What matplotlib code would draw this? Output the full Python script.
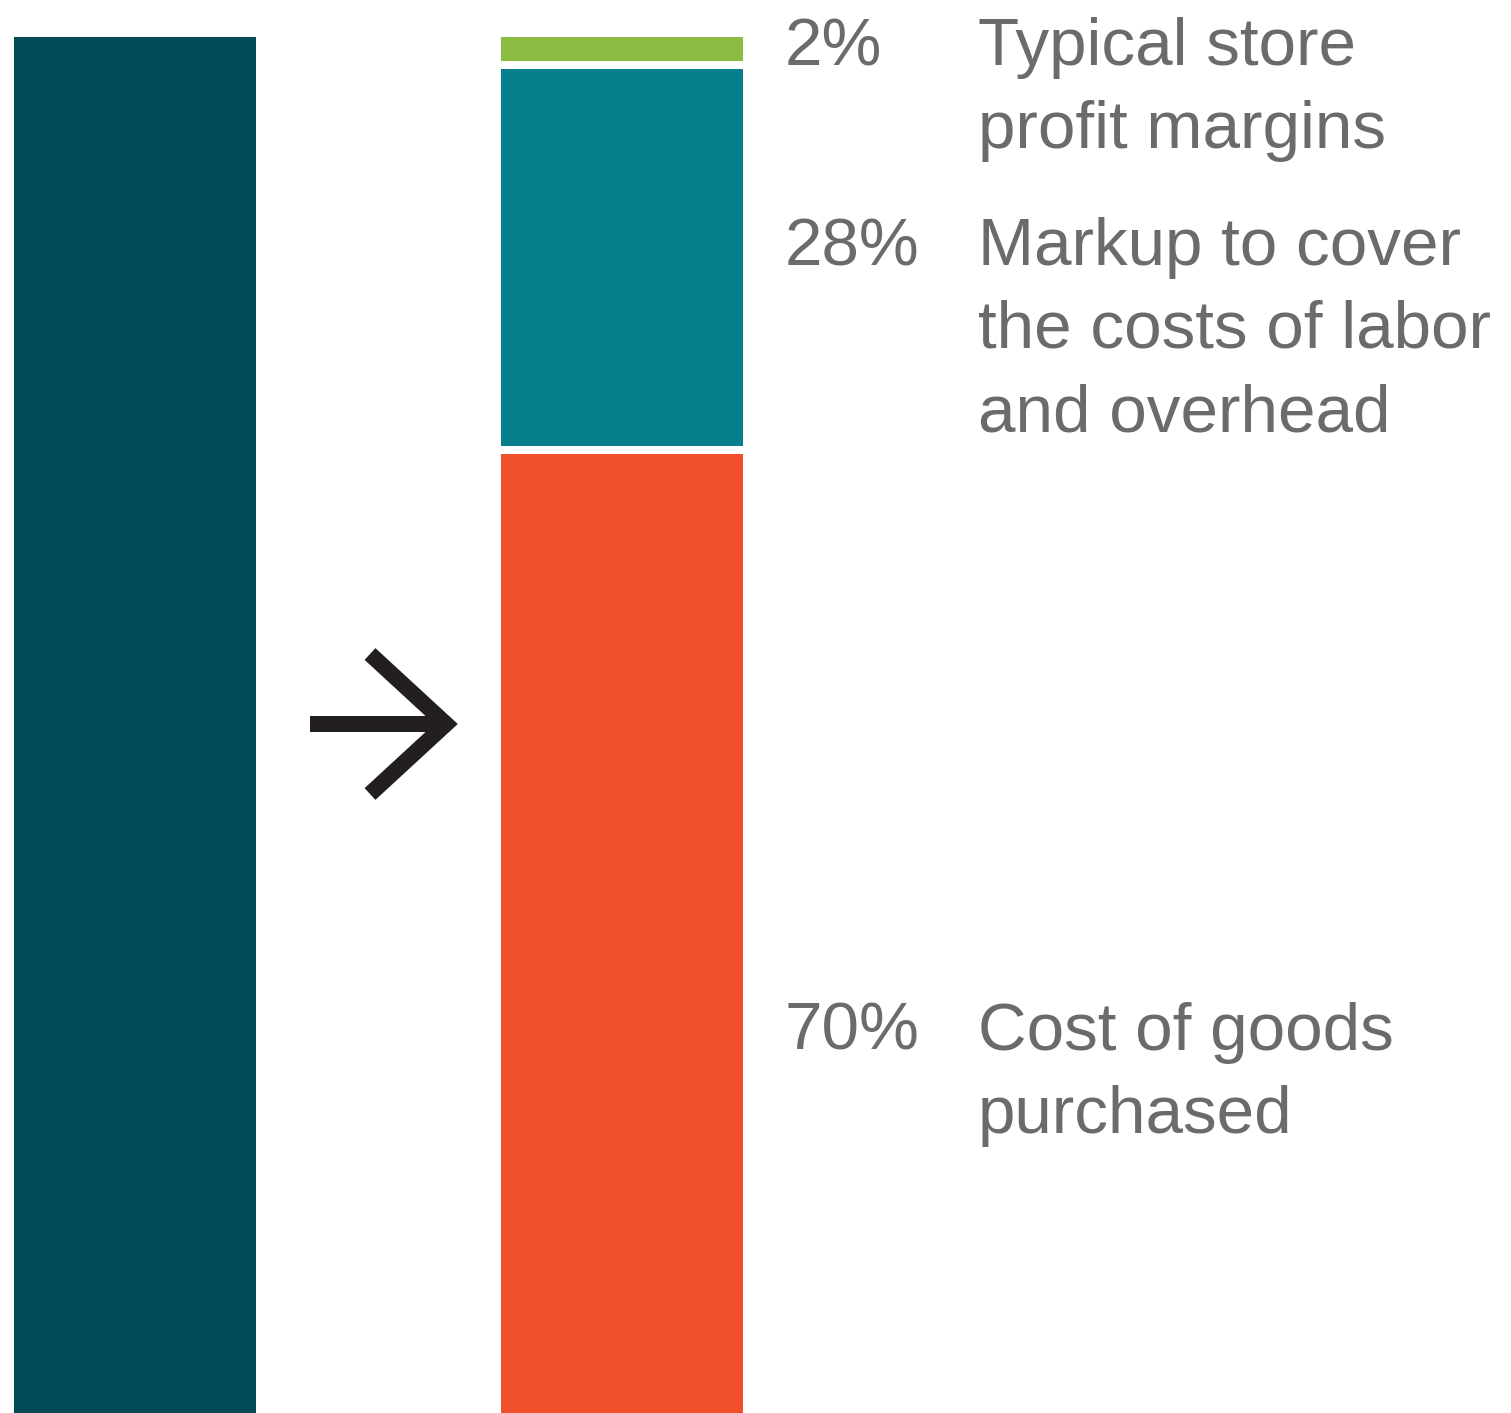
import matplotlib
matplotlib.use("Agg")
import matplotlib.pyplot as plt
import numpy as np

# Share of the retail price
total_price = [100]
segments = ["Cost of goods purchased",
            "Markup to cover the costs of labor and overhead",
            "Typical store profit margins"]
shares = [70, 28, 2]
share_labels = ["70%", "28%", "2%"]
descriptions = [["Cost of goods", "purchased"],
                ["Markup to cover", "the costs of labor", "and overhead"],
                ["Typical store", "profit margins"]]
seg_colors = ["#F04F29", "#077F8C", "#8CBB42"]
total_color = "#024A58"
text_color = "#6D6A6B"

W, H = 1511, 1413
fig = plt.figure(figsize=(W / 100, H / 100), dpi=100)

# Bars: y 0..100 spans from the bottom edge up to pixel row 37
top_px = 37
ax = fig.add_axes([0, 0, 1, (H - top_px) / H])
ax.set_xlim(0, W)
ax.set_ylim(0, 100)
ax.axis("off")

ax.bar(135, total_price[0], width=242, bottom=0, color=total_color,
       linewidth=0)
bottoms = np.concatenate([[0], np.cumsum(shares)[:-1]])
ax.bar([622] * len(shares), shares, width=242, bottom=bottoms,
       color=seg_colors, linewidth=0)
# white separators between stacked segments
ax.hlines(bottoms[1:], 622 - 125, 622 + 125, colors="white", lw=5.76)

# Overlay in pixel coordinates for the arrow and labels
ov = fig.add_axes([0, 0, 1, 1])
ov.set_xlim(0, W)
ov.set_ylim(H, 0)
ov.axis("off")

ov.plot([310, 445], [724, 724], color="#231F20", lw=11.5,
        solid_capstyle="butt")
ov.plot([370, 446, 370], [654, 724, 794], color="#231F20", lw=11.5,
        solid_capstyle="butt", solid_joinstyle="miter")

font = dict(family="Liberation Sans", fontsize=48.5, color=text_color)
baselines = [1050, 265, 65]
line_step = 83
for lab, lines, yb in zip(share_labels, descriptions, baselines):
    ov.text(785, yb, lab, ha="left", va="baseline", **font)
    for i, line in enumerate(lines):
        ov.text(978, yb + i * line_step, line, ha="left", va="baseline",
                **font)

fig.savefig("out.png", dpi=100)
